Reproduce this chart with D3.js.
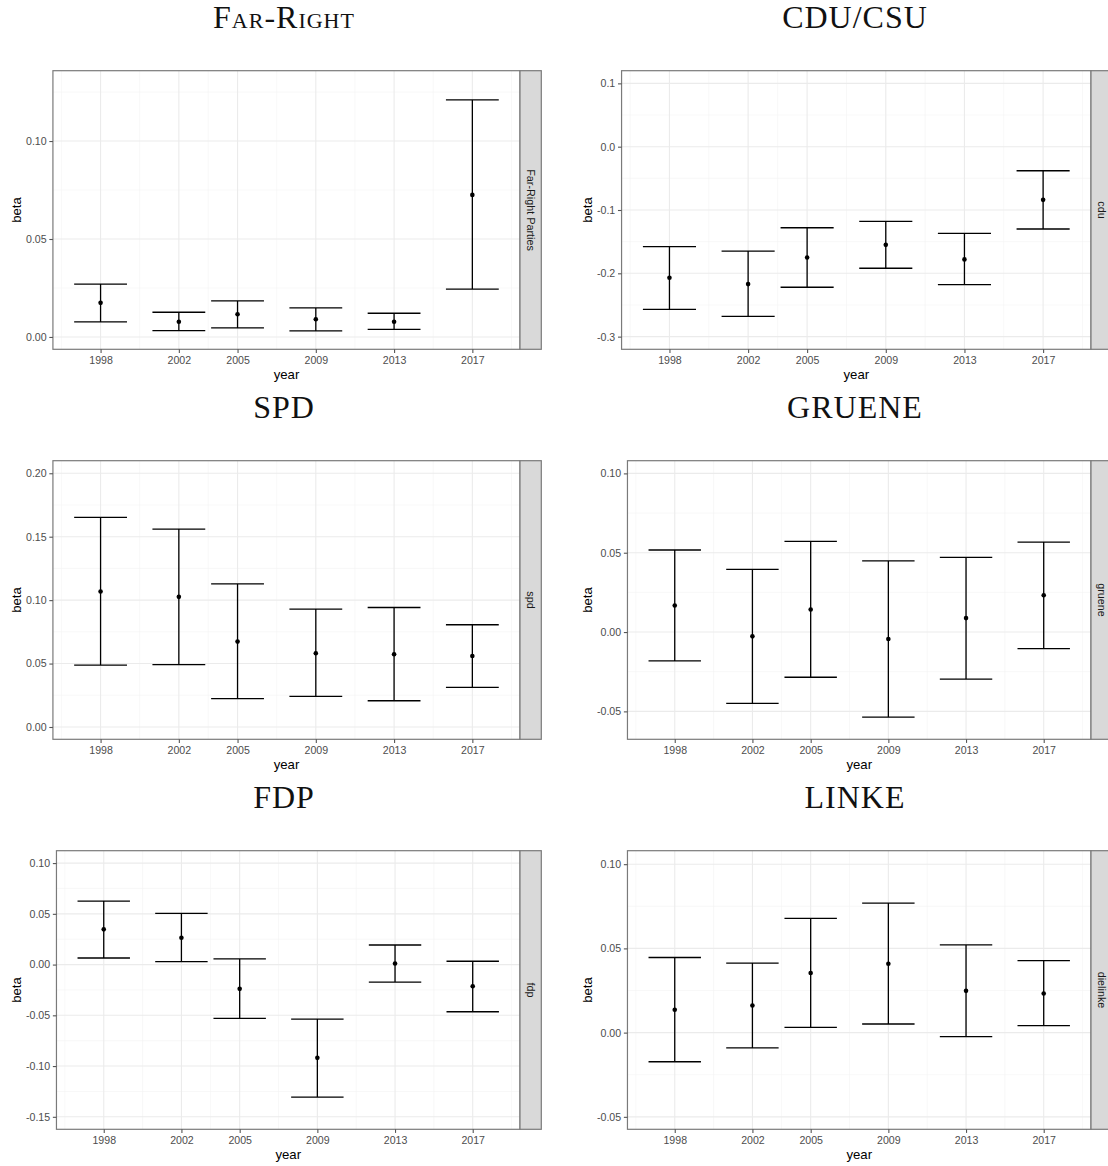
<!DOCTYPE html>
<html>
<head>
<meta charset="utf-8">
<script src="https://cdn.jsdelivr.net/npm/d3@7"></script>
<style>
html, body {
    margin: 0;
    padding: 0;
    background: #fff;
}
svg {
    display: block;
    font-family: 'Liberation Sans', Arial, sans-serif;
}
.title {
    font-family: 'Liberation Serif', 'DejaVu Serif', serif;
    font-size: 32px;
    letter-spacing: 1px;
    fill: #111;
}
.grid-major { stroke: #EBEBEB; stroke-width: 1.1; }
.grid-minor { stroke: #F3F3F3; stroke-width: 0.6; }
.errbar { stroke: #000; stroke-width: 1.3; fill: none; }
.border { fill: none; stroke: #7a7a7a; stroke-width: 1.2; }
.strip { fill: #D9D9D9; stroke: #7a7a7a; stroke-width: 1.2; }
.strip-text { font-size: 10.8px; fill: #1A1A1A; }
.axis-title { font-size: 13.2px; fill: #000; }
</style>
</head>
<body>
<script>
// years on the x axis
var years = [1998, 2002, 2005, 2009, 2013, 2017];

// estimates with lower / upper bounds
var farRightBeta  = [0.0174, 0.0078, 0.0116, 0.0090, 0.0078, 0.0725];
var farRightLower = [0.0077, 0.0032, 0.0046, 0.0031, 0.0039, 0.0244];
var farRightUpper = [0.0270, 0.0126, 0.0184, 0.0148, 0.0121, 0.1210];

var cduBeta  = [-0.207, -0.217, -0.175, -0.155, -0.178, -0.084];
var cduLower = [-0.257, -0.268, -0.222, -0.192, -0.218, -0.130];
var cduUpper = [-0.158, -0.165, -0.128, -0.118, -0.137, -0.038];

var spdBeta  = [0.1068, 0.1026, 0.0673, 0.0581, 0.0573, 0.0560];
var spdLower = [0.0487, 0.0492, 0.0223, 0.0241, 0.0207, 0.0312];
var spdUpper = [0.1652, 0.1560, 0.1128, 0.0929, 0.0942, 0.0806];

var grueneBeta  = [0.0167, -0.0027, 0.0142, -0.0044, 0.0088, 0.0232];
var grueneLower = [-0.0182, -0.0450, -0.0285, -0.0536, -0.0297, -0.0105];
var grueneUpper = [0.0517, 0.0395, 0.0571, 0.0448, 0.0471, 0.0567];

var fdpBeta  = [0.0347, 0.0265, -0.0239, -0.0919, 0.0010, -0.0213];
var fdpLower = [0.0065, 0.0029, -0.0530, -0.1306, -0.0173, -0.0465];
var fdpUpper = [0.0625, 0.0504, 0.0056, -0.0537, 0.0193, 0.0033];

var linkeBeta  = [0.0136, 0.0161, 0.0354, 0.0409, 0.0248, 0.0232];
var linkeLower = [-0.0173, -0.0090, 0.0031, 0.0051, -0.0024, 0.0041];
var linkeUpper = [0.0446, 0.0413, 0.0678, 0.0769, 0.0521, 0.0427];

var titles = ["Far-Right", "CDU/CSU", "SPD", "GRUENE", "FDP", "LINKE"];
var stripLabels = ["Far-Right Parties", "cdu", "spd", "gruene", "fdp", "dielinke"];
var yTicks = [
    [0, 0.05, 0.10],
    [-0.3, -0.2, -0.1, 0, 0.1],
    [0, 0.05, 0.10, 0.15, 0.20],
    [-0.05, 0, 0.05, 0.10],
    [-0.15, -0.10, -0.05, 0, 0.05, 0.10],
    [-0.05, 0, 0.05, 0.10]
];
var yTickFormat = [".2f", ".1f", ".2f", ".2f", ".2f", ".2f"];
var yLimits = [
    [-0.0063, 0.1359],
    [-0.32, 0.12],
    [-0.0097, 0.2099],
    [-0.0676, 0.108],
    [-0.1623, 0.1122],
    [-0.0574, 0.108]
];

var series = [
    [farRightBeta, farRightLower, farRightUpper],
    [cduBeta, cduLower, cduUpper],
    [spdBeta, spdLower, spdUpper],
    [grueneBeta, grueneLower, grueneUpper],
    [fdpBeta, fdpLower, fdpUpper],
    [linkeBeta, linkeLower, linkeUpper]
];

var width = 1108, height = 1166;
var cellX = [0, 571];
var rowY = [0, 390, 780];
var barWidth = 2.7; // years
var xDomain = [1995.565, 2019.435];
var xMinor = [1996, 2000, 2003.5, 2007, 2011, 2015, 2019];
var tickFont = 10.6;

// plain hyphen for negatives, like the original
var locale = d3.formatLocale({
    decimal: ".",
    thousands: ",",
    grouping: [3],
    currency: ["$", ""],
    minus: "-"
});

var svg = d3.select("body")
    .append("svg")
    .attr("width", width)
    .attr("height", height);

// measure tick label width so the panel starts right after the labels
function labelWidth(labels) {
    var t = svg.append("text").style("font-size", tickFont + "px");
    var w = 0;
    labels.forEach(function(l) {
        t.text(l);
        w = Math.max(w, t.node().getComputedTextLength());
    });
    t.remove();
    return w;
}

// minor breaks halfway between majors, extended one step past each end
function minorBreaks(ticks, lim) {
    var step = ticks[1] - ticks[0];
    var b = [ticks[0] - step].concat(ticks, [ticks[ticks.length - 1] + step]);
    var out = [];
    for (var i = 0; i < b.length - 1; i++) {
        var m = (b[i] + b[i + 1]) / 2;
        if (m > lim[0] && m < lim[1]) out.push(m);
    }
    return out;
}

titles.forEach(function(title, i) {
    var col = i % 2, row = Math.floor(i / 2);
    var ox = cellX[col], oy = rowY[row];
    var fmt = locale.format(yTickFormat[i]);
    var labels = yTicks[i].map(fmt);

    var left = ox + 26 + labelWidth(labels) + 6.3;
    var right = ox + 520;
    var top = oy + 70.7;
    var bottom = oy + 349.3;

    var x = d3.scaleLinear().domain(xDomain).range([left, right]);
    var y = d3.scaleLinear().domain(yLimits[i]).range([bottom, top]);

    // title
    svg.append("text")
        .attr("class", "title")
        .attr("x", ox + 284)
        .attr("y", oy + 27.5)
        .attr("text-anchor", "middle")
        .style("font-variant", i === 0 ? "small-caps" : "normal")
        .text(title);

    var g = svg.append("g");

    g.append("rect")
        .attr("x", left).attr("y", top)
        .attr("width", right - left).attr("height", bottom - top)
        .attr("fill", "#fff");

    // grid
    g.selectAll(".gy-minor")
        .data(minorBreaks(yTicks[i], yLimits[i]))
        .enter().append("line")
        .attr("class", "grid-minor")
        .attr("x1", left).attr("x2", right)
        .attr("y1", y).attr("y2", y);

    g.selectAll(".gx-minor")
        .data(xMinor)
        .enter().append("line")
        .attr("class", "grid-minor")
        .attr("x1", x).attr("x2", x)
        .attr("y1", top).attr("y2", bottom);

    g.selectAll(".gy-major")
        .data(yTicks[i])
        .enter().append("line")
        .attr("class", "grid-major")
        .attr("x1", left).attr("x2", right)
        .attr("y1", y).attr("y2", y);

    g.selectAll(".gx-major")
        .data(years)
        .enter().append("line")
        .attr("class", "grid-major")
        .attr("x1", x).attr("x2", x)
        .attr("y1", top).attr("y2", bottom);

    // error bars
    var beta = series[i][0], lower = series[i][1], upper = series[i][2];
    var rows = years.map(function(yr, k) {
        return { year: yr, beta: beta[k], lo: lower[k], hi: upper[k] };
    });

    g.selectAll(".bar")
        .data(rows)
        .enter().append("path")
        .attr("class", "errbar")
        .attr("d", function(d) {
            var x0 = x(d.year - barWidth / 2), x1 = x(d.year + barWidth / 2), xc = x(d.year);
            return "M" + x0 + "," + y(d.hi) + "H" + x1 +
                "M" + xc + "," + y(d.hi) + "V" + y(d.lo) +
                "M" + x0 + "," + y(d.lo) + "H" + x1;
        });

    g.selectAll(".pt")
        .data(rows)
        .enter().append("circle")
        .attr("cx", function(d) { return x(d.year); })
        .attr("cy", function(d) { return y(d.beta); })
        .attr("r", 2.3)
        .attr("fill", "#000");

    // panel border and strip
    g.append("rect")
        .attr("class", "border")
        .attr("x", left).attr("y", top)
        .attr("width", right - left).attr("height", bottom - top);

    g.append("rect")
        .attr("class", "strip")
        .attr("x", right).attr("y", top)
        .attr("width", 21.3).attr("height", bottom - top);

    g.append("text")
        .attr("class", "strip-text")
        .attr("transform", "translate(" + (right + 10.6) + "," + ((top + bottom) / 2) + ") rotate(90)")
        .attr("text-anchor", "middle")
        .attr("dominant-baseline", "central")
        .text(stripLabels[i]);

    // axes
    var yAxis = g.append("g")
        .attr("transform", "translate(" + left + ",0)")
        .call(d3.axisLeft(y).tickValues(yTicks[i]).tickFormat(fmt).tickSize(3.6).tickPadding(2.7));

    var xAxis = g.append("g")
        .attr("transform", "translate(0," + bottom + ")")
        .call(d3.axisBottom(x).tickValues(years).tickFormat(d3.format("d")).tickSize(3.6).tickPadding(3.4));

    [yAxis, xAxis].forEach(function(a) {
        a.attr("font-family", null).attr("font-size", null);
        a.select(".domain").remove();
        a.selectAll(".tick line").attr("stroke", "#555").attr("stroke-width", 1.1);
        a.selectAll(".tick text")
            .style("font-size", tickFont + "px")
            .attr("fill", "#4D4D4D");
    });

    // axis titles
    g.append("text")
        .attr("class", "axis-title")
        .attr("x", (left + right) / 2)
        .attr("y", bottom + 29.5)
        .attr("text-anchor", "middle")
        .text("year");

    g.append("text")
        .attr("class", "axis-title")
        .attr("transform", "translate(" + (ox + 20.5) + "," + ((top + bottom) / 2) + ") rotate(-90)")
        .attr("text-anchor", "middle")
        .text("beta");
});
</script>
</body>
</html>
